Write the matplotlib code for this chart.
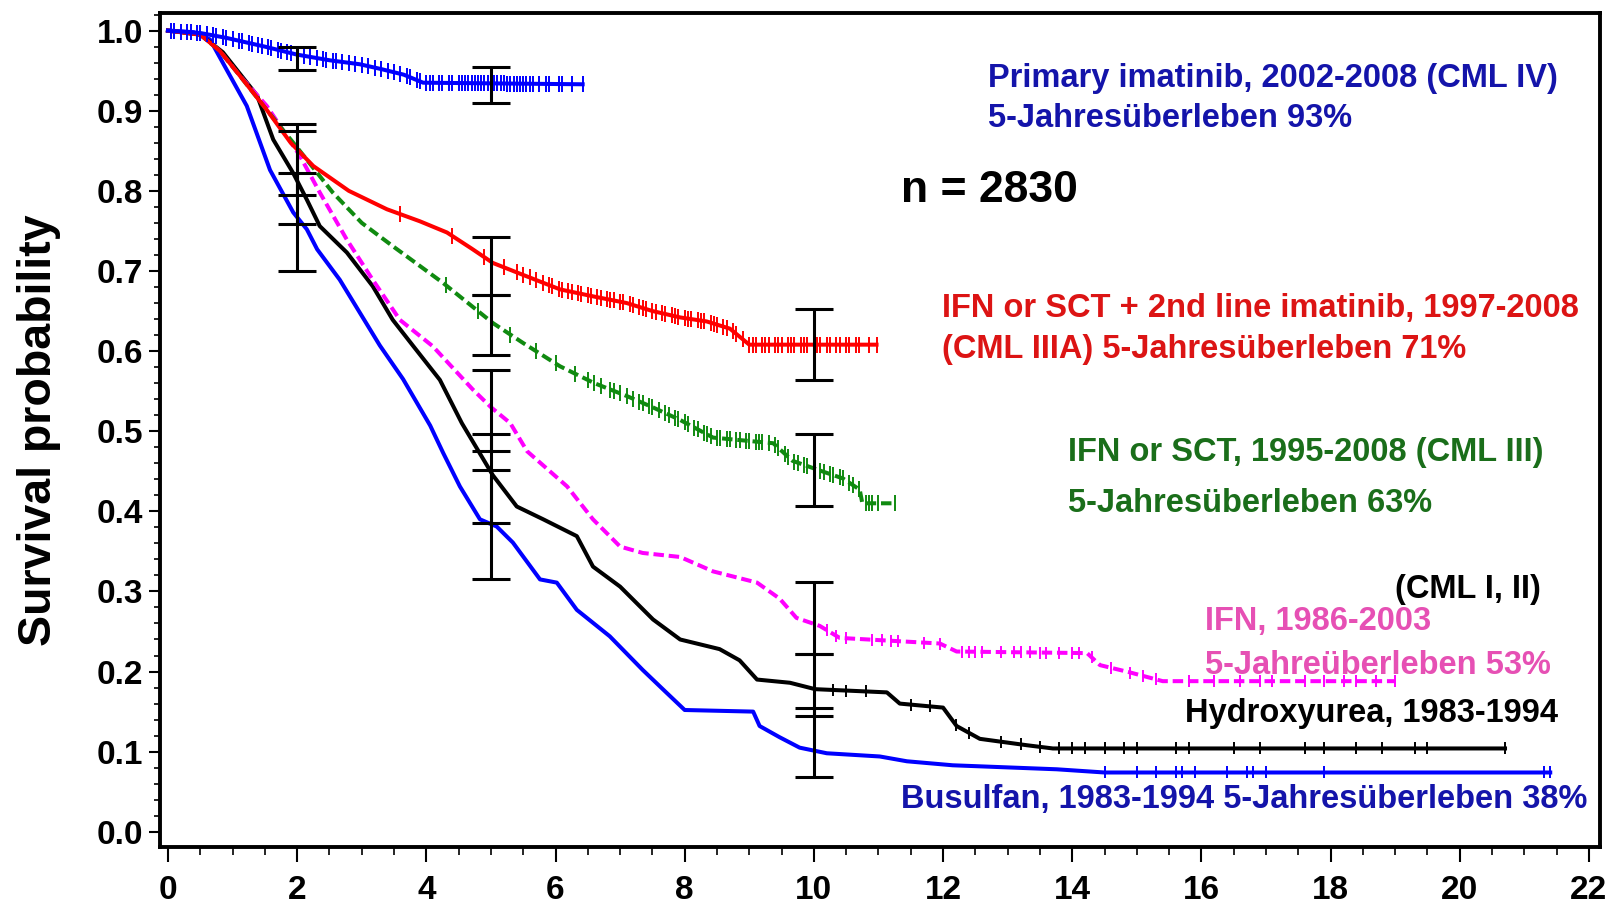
import numpy as np
import matplotlib.pyplot as plt
from matplotlib.ticker import MultipleLocator

plt.rcParams['font.family'] = ['Liberation Sans', 'DejaVu Sans']
plt.rcParams['font.weight'] = 'bold'

# Kaplan-Meier curves (years, survival)
imatinib_t = [0, 0.5, 0.9, 1.5, 2.0, 2.5, 2.97, 3.3, 3.65, 3.95, 6.42]
imatinib_s = [1.0, 0.997, 0.991, 0.98, 0.970, 0.963, 0.958, 0.952, 0.945, 0.935, 0.933]

red_t = [0, 0.5, 0.8, 1.1, 1.53, 1.9, 2.25, 2.8, 3.39, 3.9, 4.32, 4.7, 5.03, 5.5, 6.07,
         6.6, 7.1, 7.5, 7.93, 8.34, 8.7, 9.0, 10.97]
red_s = [1.0, 0.995, 0.975, 0.945, 0.901, 0.86, 0.831, 0.800, 0.777, 0.762, 0.748, 0.728,
         0.710, 0.695, 0.677, 0.668, 0.660, 0.65, 0.642, 0.637, 0.628, 0.608, 0.608]

green_t = [0, 0.5, 0.8, 1.1, 1.53, 2.04, 2.55, 3.0, 3.48, 4.26, 5.03, 5.5, 6.07, 6.6, 7.1,
           7.5, 7.93, 8.44, 9.37, 9.67, 10.09, 10.45, 10.71, 10.75, 11.25]
green_s = [1.0, 0.995, 0.975, 0.945, 0.901, 0.85, 0.798, 0.76, 0.731, 0.685, 0.635, 0.61,
           0.581, 0.56, 0.544, 0.53, 0.514, 0.492, 0.485, 0.463, 0.451, 0.441, 0.427, 0.41, 0.41]

ifn_t = [0, 0.5, 0.8, 1.1, 1.53, 2.04, 2.35, 2.77, 3.17, 3.59, 4.1, 4.72, 5.0, 5.3, 5.56,
         6.18, 6.58, 7.0, 7.35, 7.93, 8.44, 9.12, 9.47, 9.73, 10.09, 10.4, 11.95, 12.21,
         14.23, 14.43, 14.89, 15.4, 19.0]
ifn_s = [1.0, 0.995, 0.975, 0.945, 0.906, 0.844, 0.798, 0.739, 0.689, 0.639, 0.606, 0.552,
         0.53, 0.51, 0.475, 0.431, 0.39, 0.356, 0.348, 0.343, 0.325, 0.311, 0.291, 0.267,
         0.257, 0.242, 0.235, 0.225, 0.223, 0.208, 0.199, 0.188, 0.188]

hu_t = [0, 0.5, 0.85, 1.38, 1.63, 1.94, 2.15, 2.35, 2.77, 3.17, 3.48, 3.8, 4.21, 4.55, 5.03,
        5.40, 5.81, 6.33, 6.58, 7.0, 7.51, 7.93, 8.54, 8.85, 9.12, 9.63, 10.02, 11.13, 11.33,
        12.0, 12.21, 12.57, 13.3, 13.7, 20.7]
hu_s = [1.0, 0.995, 0.973, 0.919, 0.864, 0.822, 0.789, 0.756, 0.723, 0.681, 0.639, 0.606,
        0.564, 0.51, 0.445, 0.406, 0.39, 0.369, 0.331, 0.306, 0.265, 0.24, 0.228, 0.214, 0.19,
        0.186, 0.178, 0.174, 0.16, 0.155, 0.132, 0.116, 0.108, 0.104, 0.104]

bus_t = [0, 0.4, 0.65, 0.91, 1.22, 1.58, 1.94, 2.15, 2.31, 2.66, 2.97, 3.28, 3.64, 4.06, 4.26,
         4.52, 4.83, 5.09, 5.34, 5.76, 6.02, 6.33, 6.84, 7.35, 7.7, 8.0, 9.06, 9.16, 9.47,
         9.78, 10.2, 11.02, 11.44, 12.15, 13.76, 14.5, 21.4]
bus_s = [1.0, 0.998, 0.989, 0.951, 0.906, 0.826, 0.773, 0.752, 0.727, 0.689, 0.648, 0.607,
         0.565, 0.507, 0.473, 0.431, 0.390, 0.381, 0.361, 0.315, 0.311, 0.277, 0.244, 0.202,
         0.175, 0.152, 0.15, 0.132, 0.118, 0.105, 0.098, 0.094, 0.088, 0.083, 0.078, 0.074, 0.074]

# censoring marks (years)
imatinib_cens = [0.05, 0.1, 0.2, 0.3, 0.35, 0.45, 0.5, 0.6, 0.7, 0.75, 0.85, 0.9, 1.0, 1.1,
                 1.15, 1.25, 1.3, 1.4, 1.45, 1.55, 1.6, 1.7, 1.75, 1.85, 1.9, 2.1, 2.2, 2.3,
                 2.4, 2.45, 2.55, 2.6, 2.7, 2.8, 2.9, 3.0, 3.1, 3.2, 3.3, 3.4, 3.5, 3.6, 3.7,
                 3.75, 3.85, 3.9, 4.0, 4.05, 4.1, 4.2, 4.25, 4.35, 4.4, 4.5, 4.55, 4.6, 4.65,
                 4.7, 4.75, 4.8, 4.85, 4.9, 4.95, 5.0, 5.05, 5.1, 5.15, 5.2, 5.25, 5.3, 5.35,
                 5.4, 5.45, 5.5, 5.55, 5.6, 5.65, 5.75, 5.85, 5.9, 6.05, 6.1, 6.25, 6.42]
red_cens = [3.6, 4.4, 4.9, 5.2, 5.4, 5.5, 5.6, 5.7, 5.8, 5.9, 5.95, 6.05, 6.1, 6.2, 6.25, 6.35,
            6.4, 6.5, 6.55, 6.65, 6.7, 6.8, 6.85, 6.9, 7.0, 7.05, 7.15, 7.2, 7.3, 7.35, 7.4,
            7.5, 7.55, 7.65, 7.7, 7.8, 7.85, 7.9, 8.0, 8.05, 8.1, 8.2, 8.25, 8.3, 8.4, 8.45,
            8.5, 8.6, 8.65, 8.75, 8.8, 8.9, 9.0, 9.05, 9.1, 9.2, 9.25, 9.3, 9.4, 9.45, 9.5,
            9.6, 9.65, 9.7, 9.8, 9.85, 9.9, 10.0, 10.05, 10.1, 10.2, 10.25, 10.35, 10.4, 10.5,
            10.55, 10.65, 10.7, 10.85, 10.97]
green_cens = [4.3, 4.8, 5.3, 5.7, 6.0, 6.3, 6.5, 6.6, 6.7, 6.85, 6.9, 7.0, 7.1, 7.2, 7.3,
              7.35, 7.45, 7.5, 7.6, 7.7, 7.75, 7.85, 7.9, 8.0, 8.05, 8.15, 8.2, 8.3, 8.35,
              8.4, 8.5, 8.55, 8.65, 8.7, 8.8, 8.85, 8.95, 9.0, 9.1, 9.15, 9.2, 9.3, 9.4, 9.45,
              9.55, 9.6, 9.7, 9.75, 9.85, 9.9, 10.0, 10.1, 10.15, 10.25, 10.3, 10.4, 10.45,
              10.55, 10.6, 10.7, 10.8, 10.85, 10.9, 11.0, 11.25]
ifn_cens = [10.0, 10.2, 10.35, 10.5, 10.9, 11.05, 11.2, 11.3, 11.7, 11.95, 12.3, 12.4, 12.5,
            12.6, 12.9, 13.1, 13.2, 13.35, 13.5, 13.6, 13.8, 14.0, 14.1, 14.3, 14.6, 14.9,
            15.1, 15.3, 15.8, 16.2, 16.6, 16.9, 17.1, 17.6, 17.9, 18.2, 18.4, 18.7, 19.0]
hu_cens = [10.3, 10.5, 10.8, 11.5, 11.8, 12.2, 12.4, 12.9, 13.2, 13.5, 13.8, 14.0, 14.2,
           14.5, 14.8, 15.0, 15.6, 15.8, 16.5, 16.9, 17.6, 17.9, 18.4, 18.8, 19.3, 19.5, 20.7]
bus_cens = [14.5, 15.0, 15.3, 15.6, 15.7, 15.9, 16.4, 16.7, 16.8, 17.0, 17.9, 21.3, 21.4]

# confidence bars: time, lower, upper
ci_t = [2, 2, 2, 2, 5, 5, 5, 5, 5, 5, 10, 10, 10, 10, 10]
ci_lo = [0.951, 0.70, 0.758, 0.795, 0.910, 0.670, 0.595, 0.475, 0.385, 0.315,
         0.564, 0.407, 0.222, 0.145, 0.068]
ci_hi = [0.980, 0.822, 0.875, 0.883, 0.955, 0.742, 0.670, 0.577, 0.496, 0.452,
         0.652, 0.497, 0.312, 0.222, 0.155]

fig = plt.figure(figsize=(16.14, 9.14), dpi=100)
ax = fig.add_axes([0.0991, 0.0733, 0.8922, 0.9125])

curves = [
    (bus_t, bus_s, bus_cens, '#0000ff', '-', 9),
    (hu_t, hu_s, hu_cens, 'black', '-', 9),
    (ifn_t, ifn_s, ifn_cens, '#ff00ff', (0, (2.6, 1.2)), 9),
    (green_t, green_s, green_cens, '#108a10', (0, (2.6, 1.2)), 11),
    (red_t, red_s, red_cens, '#ff0000', '-', 11),
    (imatinib_t, imatinib_s, imatinib_cens, '#0000ff', '-', 12),
]
for t, s, cens, col, ls, ms in curves:
    ax.plot(t, s, color=col, lw=2.9, ls=ls, zorder=3)
    ax.plot(cens, np.interp(cens, t, s), ls='none', marker='|', ms=ms, mew=1.4,
            color=col, zorder=3)

ax.errorbar(ci_t, [(a + b) / 2 for a, b in zip(ci_lo, ci_hi)],
            yerr=[[(b - a) / 2 for a, b in zip(ci_lo, ci_hi)]] * 2,
            fmt='none', ecolor='black', elinewidth=2.2, capsize=14, capthick=2.2, zorder=4)

fs = 23.5
ax.text(12.69, 0.940, 'Primary imatinib, 2002-2008 (CML IV)', color='#1414aa', fontsize=fs, va='center')
ax.text(12.69, 0.890, '5-Jahresüberleben 93%', color='#1414aa', fontsize=fs, va='center')
ax.text(11.35, 0.800, 'n = 2830', color='black', fontsize=32, va='center')
ax.text(11.98, 0.653, 'IFN or SCT + 2nd line imatinib, 1997-2008', color='#dc1414', fontsize=fs, va='center')
ax.text(11.98, 0.602, '(CML IIIA) 5-Jahresüberleben 71%', color='#dc1414', fontsize=fs, va='center')
ax.text(13.93, 0.473, 'IFN or SCT, 1995-2008 (CML III)', color='#1a6e1a', fontsize=fs, va='center')
ax.text(13.93, 0.410, '5-Jahresüberleben 63%', color='#1a6e1a', fontsize=fs, va='center')
ax.text(21.25, 0.302, '(CML I, II)', color='black', fontsize=fs, va='center', ha='right')
ax.text(16.05, 0.262, 'IFN, 1986-2003', color='#e650b4', fontsize=fs, va='center')
ax.text(16.05, 0.208, '5-Jahreüberleben 53%', color='#e650b4', fontsize=fs, va='center')
ax.text(15.74, 0.148, 'Hydroxyurea, 1983-1994', color='black', fontsize=fs, va='center')
ax.text(11.35, 0.040, 'Busulfan, 1983-1994 5-Jahresüberleben 38%', color='#1414aa', fontsize=fs, va='center')

ax.set_xlim(-0.124, 22.17)
ax.set_ylim(-0.019, 1.022)
ax.xaxis.set_major_locator(MultipleLocator(2))
ax.xaxis.set_minor_locator(MultipleLocator(0.5))
ax.yaxis.set_major_locator(MultipleLocator(0.1))
ax.yaxis.set_minor_locator(MultipleLocator(0.02))
ax.yaxis.set_major_formatter(plt.FuncFormatter(lambda v, p: f'{v:.1f}'))
ax.tick_params(axis='x', which='major', length=11, width=1.5, labelsize=24, pad=9)
ax.tick_params(axis='x', which='minor', length=6, width=1.2)
ax.tick_params(axis='y', which='major', length=8, width=1.5, labelsize=24, pad=4)
ax.tick_params(axis='y', which='minor', length=4, width=1.2)
for sp in ax.spines.values():
    sp.set_linewidth(2.8)
ax.set_ylabel('Survival probability', fontsize=33.5, fontweight='bold')
ax.yaxis.set_label_coords(-0.069, 0.5)

fig.savefig('out.png', dpi=100)
